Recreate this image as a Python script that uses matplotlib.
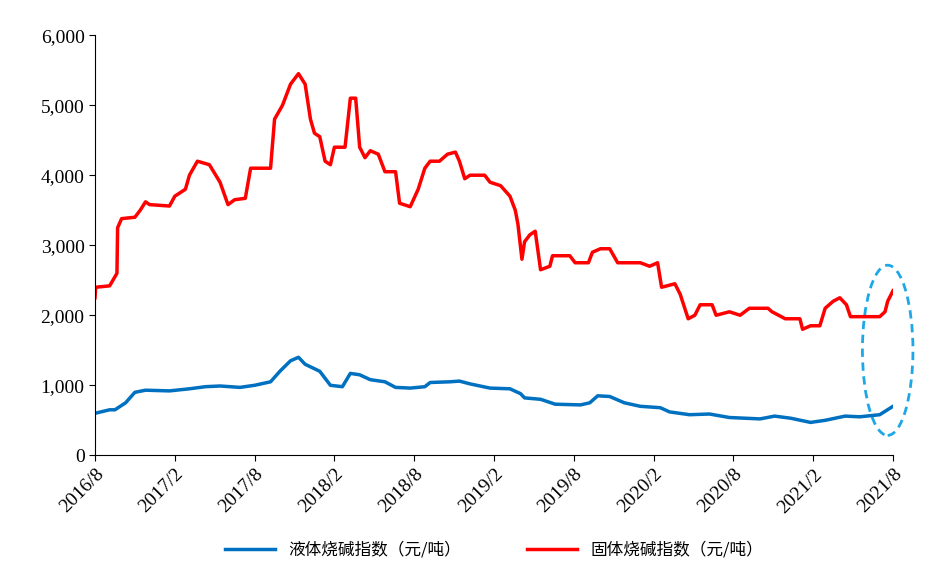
import matplotlib
matplotlib.use("Agg")
import matplotlib.pyplot as plt
from matplotlib.patches import Ellipse
from matplotlib.ticker import FuncFormatter

# months since 2016/8
red_t = [0, 0.05, 1.1, 1.5, 1.65, 1.7, 2.0, 3.0, 3.4, 3.8, 4.1, 5.6, 6.0, 6.8, 7.1, 7.7,
         8.6, 9.4, 10.0, 10.5, 11.3, 11.7, 13.2, 13.5, 14.1, 14.7, 15.3, 15.8, 16.2, 16.5,
         16.9, 17.3, 17.7, 18.0, 18.8, 19.2, 19.6, 19.9, 20.3, 20.7, 21.3, 21.8, 22.6, 22.9,
         23.7, 24.3, 24.8, 25.2, 25.9, 26.5, 27.1, 27.4, 27.8, 28.2, 29.3, 29.7, 30.5, 31.2,
         31.6, 31.8, 32.1, 32.3, 32.7, 33.1, 33.5, 34.2, 34.4, 35.7, 36.1, 37.1, 37.4, 38.0,
         38.7, 39.3, 41.0, 41.7, 42.3, 42.6, 43.6, 44.0, 44.6, 45.1, 45.5, 46.4, 46.7, 47.7,
         48.5, 49.2, 50.6, 50.9, 51.9, 53.0, 53.2, 53.8, 54.5, 54.9, 55.5, 56.0, 56.5, 56.8,
         59.0, 59.4, 59.6, 60.0]
red_v = [2250, 2400, 2420, 2550, 2600, 3250, 3380, 3400, 3500, 3620, 3580, 3560, 3700, 3800,
         4000, 4200, 4150, 3900, 3580, 3650, 3670, 4100, 4100, 4800, 5000, 5300, 5450, 5300,
         4800, 4600, 4550, 4200, 4150, 4400, 4400, 5100, 5100, 4400, 4250, 4350, 4300, 4050,
         4050, 3600, 3550, 3800, 4100, 4200, 4200, 4300, 4330, 4200, 3950, 4000, 4000, 3900,
         3850, 3700, 3500, 3300, 2800, 3050, 3150, 3200, 2650, 2700, 2850, 2850, 2750, 2750,
         2900, 2950, 2950, 2750, 2750, 2700, 2750, 2400, 2450, 2300, 1950, 2000, 2150, 2150,
         2000, 2050, 2000, 2100, 2100, 2050, 1950, 1950, 1800, 1850, 1850, 2100, 2200, 2250,
         2150, 1980, 1980, 2050, 2200, 2350]

blue_t = [0, 1.1, 1.5, 2.3, 3.0, 3.8, 5.6, 7.1, 8.3, 9.4, 10.9, 12.0, 13.2, 13.9, 14.7, 15.3,
          15.8, 16.9, 17.7, 18.6, 19.2, 19.9, 20.7, 21.8, 22.6, 23.7, 24.8, 25.2, 26.7, 27.4,
          28.2, 29.7, 31.2, 32.0, 32.3, 33.5, 34.6, 36.5, 37.2, 37.8, 38.7, 39.8, 41.0, 42.5,
          43.2, 44.7, 46.2, 47.7, 50.0, 51.1, 52.3, 53.8, 54.9, 56.4, 57.5, 59.0, 60.0]
blue_v = [600, 650, 650, 750, 900, 930, 920, 950, 980, 990, 970, 1000, 1050, 1200, 1350, 1400,
          1300, 1200, 1000, 980, 1170, 1150, 1080, 1050, 970, 960, 980, 1040, 1050, 1060,
          1020, 960, 950, 880, 820, 800, 730, 720, 750, 850, 840, 750, 700, 680, 620, 580,
          590, 540, 520, 560, 530, 470, 500, 560, 550, 580, 700]

tick_labels = ["2016/8", "2017/2", "2017/8", "2018/2", "2018/8", "2019/2",
               "2019/8", "2020/2", "2020/8", "2021/2", "2021/8"]

plt.rcParams["font.family"] = ["Liberation Serif", "Noto Sans CJK SC"]
fig = plt.figure(figsize=(9.5, 5.86), dpi=100)
ax = fig.add_axes([0.1, 0.223, 0.84, 0.717])

ax.plot(blue_t, blue_v, color="#0070c0", lw=2.5, label="液体烧碱指数（元/吨）")
ax.plot(red_t, red_v, color="#ff0000", lw=2.5, label="固体烧碱指数（元/吨）")

ax.add_patch(Ellipse((59.6, 1500), 3.8, 2430, fill=False, ls=(0, (3, 2)),
                     ec="#1ea7e6", lw=2, clip_on=False))

ax.set_xlim(0, 60)
ax.set_ylim(0, 6000)
ax.set_yticks(range(0, 6001, 1000))
ax.yaxis.set_major_formatter(FuncFormatter(lambda v, p: f"{int(v):,}"))
ax.set_xticks(range(0, 61, 6))
ax.set_xticklabels(tick_labels, rotation=45, ha="right", rotation_mode="anchor")
ax.tick_params(labelsize=14, direction="out", length=4)
for s in ["top", "right"]:
    ax.spines[s].set_visible(False)

leg = ax.legend(loc="upper center", bbox_to_anchor=(0.5, -0.17), ncol=2, frameon=False,
                prop={"family": "Noto Sans CJK SC", "size": 12}, handlelength=3,
                columnspacing=4)

fig.savefig("out.png", dpi=100)
